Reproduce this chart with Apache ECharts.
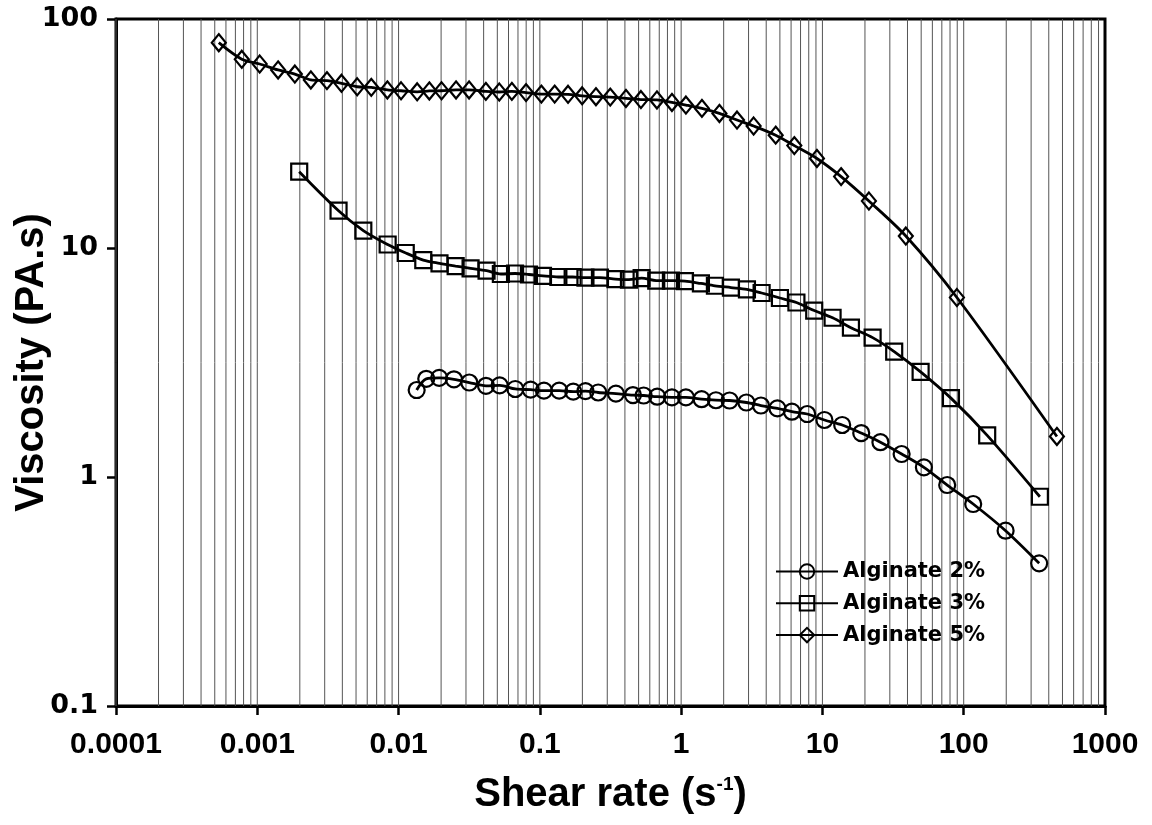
<!DOCTYPE html>
<html>
<head>
<meta charset="utf-8">
<script src="https://cdn.jsdelivr.net/npm/echarts@6/dist/echarts.min.js"></script>
<style>html,body{margin:0;padding:0;background:#fff}#chart{width:1152px;height:825px}</style>
</head>
<body>
<div id="chart"></div>
<script>
// Alginate 2% (circles)
const alg2Shear = [0.01343,0.0157,0.01938,0.02466,0.03165,0.04155,0.05194,0.06696,0.08606,0.1069,0.137,0.1723,0.2102,0.2589,0.3455,0.4559,0.5427,0.6774,0.8607,1.081,1.396,1.763,2.203,2.897,3.67,4.801,6.083,7.804,10.33,13.8,18.82,25.73,36.35,52.26,76.4,116.7,197.9,342.0];
const alg2Visc = [2.398,2.684,2.711,2.671,2.586,2.502,2.512,2.423,2.406,2.382,2.382,2.358,2.37,2.339,2.311,2.28,2.269,2.242,2.228,2.228,2.186,2.164,2.158,2.115,2.052,1.995,1.928,1.884,1.774,1.687,1.556,1.419,1.26,1.102,0.9226,0.7621,0.5827,0.4198];
// Alginate 3% (squares)
const alg3Shear = [0.00198,0.00376,0.00563,0.00837,0.01124,0.01496,0.01948,0.02535,0.03233,0.04195,0.05297,0.06674,0.08372,0.1052,0.1352,0.1707,0.2102,0.2663,0.3428,0.4271,0.5252,0.6664,0.8466,1.064,1.38,1.734,2.251,2.922,3.712,5.001,6.545,8.748,11.8,15.91,22.66,32.21,49.54,81.21,146.6,346.0];
const alg3Visc = [21.54,14.55,11.92,10.36,9.51,8.86,8.57,8.34,8.15,7.96,7.7,7.74,7.66,7.55,7.47,7.47,7.43,7.43,7.32,7.28,7.39,7.21,7.2,7.17,7.0,6.84,6.72,6.6,6.36,6.05,5.78,5.33,4.96,4.49,4.06,3.53,2.88,2.21,1.52,0.82];
// Alginate 5% (diamonds)
const alg5Shear = [0.000534,0.000777,0.00104,0.001404,0.001845,0.002394,0.003112,0.003944,0.005093,0.006408,0.008331,0.01041,0.01354,0.01651,0.02015,0.02551,0.03155,0.04148,0.05161,0.06336,0.07984,0.1025,0.1273,0.1583,0.1992,0.2495,0.3149,0.4068,0.5192,0.6741,0.8607,1.081,1.403,1.866,2.486,3.258,4.67,6.325,9.141,13.56,21.33,38.93,89.5,456.6];
const alg5Visc = [78.8,66.7,63.6,59.9,57.5,54.2,53.8,52.4,50.6,50.3,49.0,48.6,48.1,48.5,48.6,49.0,49.0,48.3,48.0,48.3,47.7,47.0,47.0,46.9,46.2,45.8,45.6,45.0,44.5,44.3,43.2,42.1,40.7,38.7,36.2,34.1,31.1,28.0,24.6,20.5,16.04,11.28,6.08,1.503];

const seriesNames = ['Alginate 2%','Alginate 3%','Alginate 5%'];
const xTickLabels = ['0.0001','0.001','0.01','0.1','1','10','100','1000'];
const yTickLabels = ['0.1','1','10','100'];
const xTitle = 'Shear rate (s{sup|-1})';
const yTitle = 'Viscosity (PA.s)';

// vertical grid lines at 1..9 x 10^k (axis structure)
const gridLines = [];
for (let e = -4; e < 3; e++) {
  for (let m = 1; m <= 9; m++) {
    gridLines.push([m * Math.pow(10, e), 1]);
  }
}

const pair = (xs, ys) => xs.map((x, i) => [x, ys[i]]);

const chart = echarts.init(document.getElementById('chart'), null, { renderer: 'canvas' });

const lineSeries = (name, data, symbol, size) => ({
  name, type: 'line', data, symbol, symbolSize: size, smooth: 0.3,
  showSymbol: true, z: 5,
  lineStyle: { color: '#000', width: 2.8 },
  itemStyle: { color: 'rgba(255,255,255,0)', borderColor: '#000', borderWidth: 2.2 },
  emphasis: { disabled: true }
});

const titleFont = 'Liberation Sans, Arial, sans-serif';

chart.setOption({
  animation: false,
  backgroundColor: '#fff',
  grid: { left: 116, right: 47, top: 19, bottom: 119, containLabel: false, outerBoundsMode: 'none',
          show: true, borderColor: '#000', borderWidth: 3, backgroundColor: 'transparent' },
  legend: {
    orient: 'vertical', left: 775, top: 561, padding: 0,
    itemWidth: 62, itemHeight: 18, itemGap: 10.8,
    data: seriesNames,
    textStyle: { fontFamily: 'DejaVu Sans, sans-serif', fontWeight: 'bold', fontSize: 21, color: '#000' }
  },
  xAxis: {
    type: 'log', logBase: 10, min: 0.0001, max: 1000, interval: 1,
    name: xTitle, nameLocation: 'middle', nameGap: 69, nameMoveOverlap: false,
    nameTextStyle: {
      fontFamily: titleFont, fontWeight: 'bold', fontSize: 40, color: '#000',
      rich: { sup: { fontFamily: titleFont, fontWeight: 'bold', fontSize: 19, verticalAlign: 'top', padding: [0, 0, 16, 0], color: '#000' } }
    },
    axisLine: { show: true, onZero: false, lineStyle: { color: '#000', width: 3 } },
    axisTick: { show: true, inside: false, length: 9, lineStyle: { color: '#000', width: 2.5 } },
    axisLabel: {
      margin: 24, color: '#000', fontFamily: titleFont, fontWeight: 'bold', fontSize: 30,
      formatter: v => xTickLabels[Math.round(Math.log10(v)) + 4] || ''
    },
    splitLine: { show: false }
  },
  yAxis: {
    type: 'log', logBase: 10, min: 0.1, max: 100, interval: 1,
    name: yTitle, nameLocation: 'middle', nameGap: 64, nameRotate: 90, nameMoveOverlap: false,
    nameTextStyle: { fontFamily: titleFont, fontWeight: 'bold', fontSize: 40, color: '#000' },
    axisLine: { show: true, onZero: false, lineStyle: { color: '#000', width: 3 } },
    axisTick: { show: true, inside: false, length: 9, lineStyle: { color: '#000', width: 2.5 } },
    axisLabel: {
      margin: 18, color: '#000', fontFamily: 'DejaVu Sans, sans-serif', fontWeight: 'bold', fontSize: 27,
      formatter: v => yTickLabels[Math.round(Math.log10(v)) + 1] || ''
    },
    splitLine: { show: false }
  },
  series: [
    {
      name: 'grid', type: 'custom', data: gridLines, silent: true, z: 1,
      encode: { x: 0, y: 1 },
      renderItem: (params, api) => {
        const v = api.value(0);
        const top = api.coord([v, 100]);
        const bot = api.coord([v, 0.1]);
        return {
          type: 'line',
          shape: { x1: top[0], y1: top[1], x2: bot[0], y2: bot[1] },
          style: { stroke: '#555', lineWidth: 1 }
        };
      }
    },
    lineSeries(seriesNames[0], pair(alg2Shear, alg2Visc), 'circle', 16),
    lineSeries(seriesNames[1], pair(alg3Shear, alg3Visc), 'rect', 16),
    lineSeries(seriesNames[2], pair(alg5Shear, alg5Visc), 'diamond', [14, 17])
  ]
});
</script>
</body>
</html>
